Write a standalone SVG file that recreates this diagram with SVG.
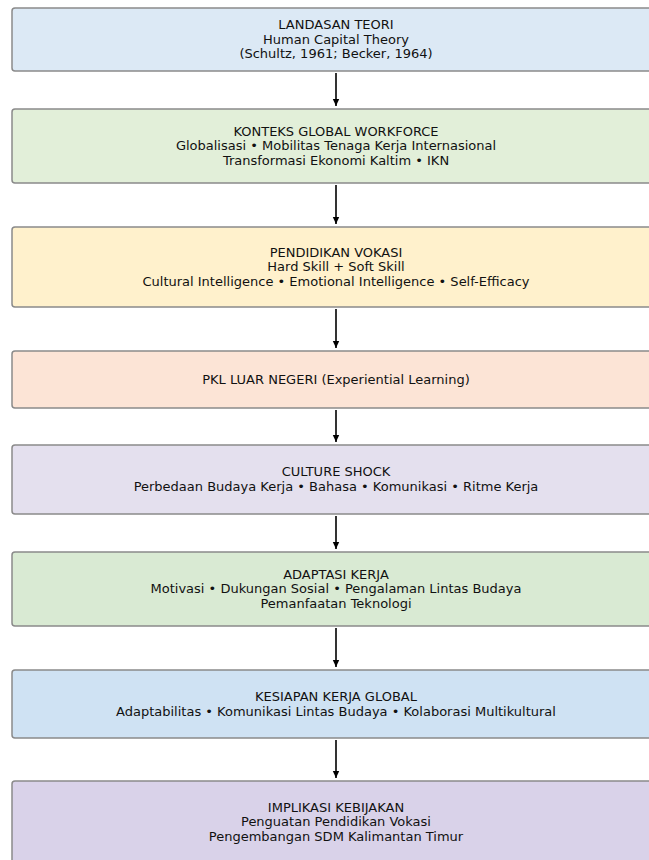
<svg xmlns="http://www.w3.org/2000/svg" width="649" height="860" viewBox="0 0 649 860">
<style>
.box{stroke:#8a8a8a;stroke-width:1.5}
text{font-family:"DejaVu Sans",sans-serif;font-size:13px;fill:#111;text-anchor:middle}
.c{stroke:#000;stroke-width:1.6;fill:none}
</style>
<defs>
<marker id="ah" markerWidth="8" markerHeight="8" refX="7" refY="4" orient="auto" markerUnits="userSpaceOnUse">
<path d="M0,0.8 L7,4 L0,7.2 z" fill="#000"/>
</marker>
</defs>
<rect width="649" height="860" fill="#fff"/>
<g id="connectors">
<line class="c" x1="336" y1="73" x2="336" y2="106" marker-end="url(#ah)"/>
<line class="c" x1="336" y1="185" x2="336" y2="224" marker-end="url(#ah)"/>
<line class="c" x1="336" y1="309" x2="336" y2="348" marker-end="url(#ah)"/>
<line class="c" x1="336" y1="410" x2="336" y2="442" marker-end="url(#ah)"/>
<line class="c" x1="336" y1="516" x2="336" y2="549" marker-end="url(#ah)"/>
<line class="c" x1="336" y1="628" x2="336" y2="667" marker-end="url(#ah)"/>
<line class="c" x1="336" y1="740" x2="336" y2="778" marker-end="url(#ah)"/>
</g>
<g id="n1">
<rect class="box" x="12" y="8" width="648" height="63" rx="3" fill="#dce9f5"/>
<text x="336" y="29">LANDASAN TEORI</text>
<text x="336" y="44">Human Capital Theory</text>
<text x="336" y="58">(Schultz, 1961; Becker, 1964)</text>
</g>
<g id="n2">
<rect class="box" x="12" y="109" width="648" height="74" rx="3" fill="#e2efd9"/>
<text x="336" y="136">KONTEKS GLOBAL WORKFORCE</text>
<text x="336" y="150">Globalisasi • Mobilitas Tenaga Kerja Internasional</text>
<text x="336" y="165">Transformasi Ekonomi Kaltim • IKN</text>
</g>
<g id="n3">
<rect class="box" x="12" y="227" width="648" height="80" rx="3" fill="#fff1cc"/>
<text x="336" y="257">PENDIDIKAN VOKASI</text>
<text x="336" y="271">Hard Skill + Soft Skill</text>
<text x="336" y="286">Cultural Intelligence • Emotional Intelligence • Self-Efficacy</text>
</g>
<g id="n4">
<rect class="box" x="12" y="351" width="648" height="57" rx="3" fill="#fce4d6"/>
<text x="336" y="384">PKL LUAR NEGERI (Experiential Learning)</text>
</g>
<g id="n5">
<rect class="box" x="12" y="445" width="648" height="69" rx="3" fill="#e4e0ee"/>
<text x="336" y="476">CULTURE SHOCK</text>
<text x="336" y="491">Perbedaan Budaya Kerja • Bahasa • Komunikasi • Ritme Kerja</text>
</g>
<g id="n6">
<rect class="box" x="12" y="552" width="648" height="74" rx="3" fill="#d9ead3"/>
<text x="336" y="579">ADAPTASI KERJA</text>
<text x="336" y="593">Motivasi • Dukungan Sosial • Pengalaman Lintas Budaya</text>
<text x="336" y="608">Pemanfaatan Teknologi</text>
</g>
<g id="n7">
<rect class="box" x="12" y="670" width="648" height="68" rx="3" fill="#cfe2f3"/>
<text x="336" y="701">KESIAPAN KERJA GLOBAL</text>
<text x="336" y="716">Adaptabilitas • Komunikasi Lintas Budaya • Kolaborasi Multikultural</text>
</g>
<g id="n8">
<rect class="box" x="12" y="781" width="648" height="100" rx="3" fill="#d9d2e9"/>
<text x="336" y="812">IMPLIKASI KEBIJAKAN</text>
<text x="336" y="826">Penguatan Pendidikan Vokasi</text>
<text x="336" y="841">Pengembangan SDM Kalimantan Timur</text>
</g>
</svg>
